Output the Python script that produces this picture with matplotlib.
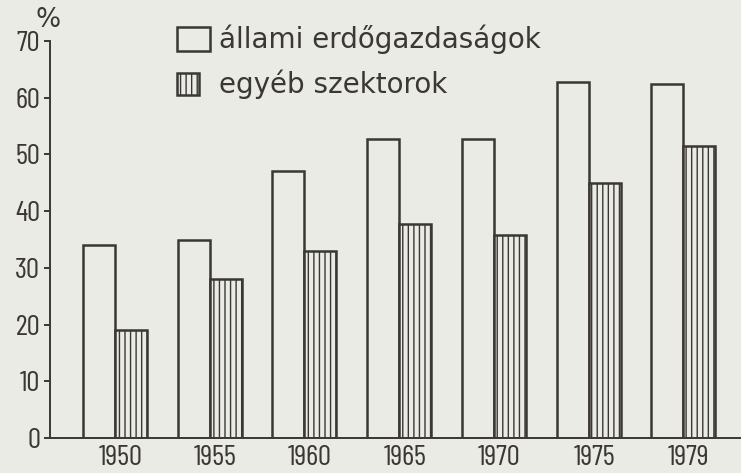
import matplotlib as mpl
mpl.use('Agg')
import matplotlib.pyplot as plt
from matplotlib.patches import Rectangle
from matplotlib.legend_handler import HandlerPatch
import numpy as np

years = ['1950', '1955', '1960', '1965', '1970', '1975', '1979']
allami = [34, 35, 47, 52.8, 52.8, 62.8, 62.5]
egyeb = [19, 28, 33, 37.8, 35.8, 45, 51.4]
labels = ['állami erdőgazdaságok', 'egyéb szektorok']

paper = '#eaebe5'
ink = '#3a3734'
numfont = ['Barlow Condensed', 'DejaVu Sans']

plt.rcParams['font.family'] = ['DejaVu Sans']
plt.rcParams['hatch.linewidth'] = 1.0

def narrow_patch(legend, orig_handle, xdescent, ydescent, width, height, fontsize):
	# the hatched key is drawn smaller in the original
	return Rectangle((-xdescent, -ydescent + 0.055 * height), width * 0.67, height * 0.89)

fig = plt.figure(figsize=(7.41, 4.73), dpi=100, facecolor=paper)
ax = fig.add_axes([50 / 741., 1 - 438 / 473., 1 - 50 / 741., (438 - 41) / 473.])
ax.set_facecolor(paper)

x = np.arange(len(years))
w = 0.338
b1 = ax.bar(x - w / 2, allami, w, facecolor=paper, edgecolor=ink, linewidth=1.8)
b2 = ax.bar(x + w / 2, egyeb, w, facecolor=paper, edgecolor=ink, linewidth=1.8, hatch='|||')

ax.set_xlim(-0.687, 6.61)
ax.set_ylim(0, 70)
ax.set_yticks(range(0, 71, 10))
ax.set_xticks(x + 0.06)
ax.set_xticklabels(years)
ax.tick_params(axis='x', length=0, pad=5, labelsize=21, colors=ink)
ax.tick_params(axis='y', length=4, width=1.4, pad=3, labelsize=21, colors=ink)
for lab in ax.get_xticklabels() + ax.get_yticklabels():
	lab.set_family(numfont)
for s in ['top', 'right']:
	ax.spines[s].set_visible(False)
ax.spines['left'].set_color(ink)
ax.spines['bottom'].set_color(ink)
ax.spines['left'].set_linewidth(1.4)
ax.spines['bottom'].set_linewidth(1.4)

fig.text(48 / 741., 1 - 20 / 473., '%', ha='center', va='center', fontsize=19, color=ink)

leg = fig.legend([b1[0], b2[0]], labels, loc='upper left', bbox_to_anchor=(177 / 741., 1 - 25 / 473.),
	frameon=False, fontsize=20, handlelength=1.19, handleheight=1.0, handletextpad=0.32,
	labelspacing=0.55, borderpad=0, borderaxespad=0, labelcolor=ink,
	handler_map={b2[0]: HandlerPatch(patch_func=narrow_patch)})

plt.savefig('out.png', dpi=100, facecolor=paper)
plt.close()
